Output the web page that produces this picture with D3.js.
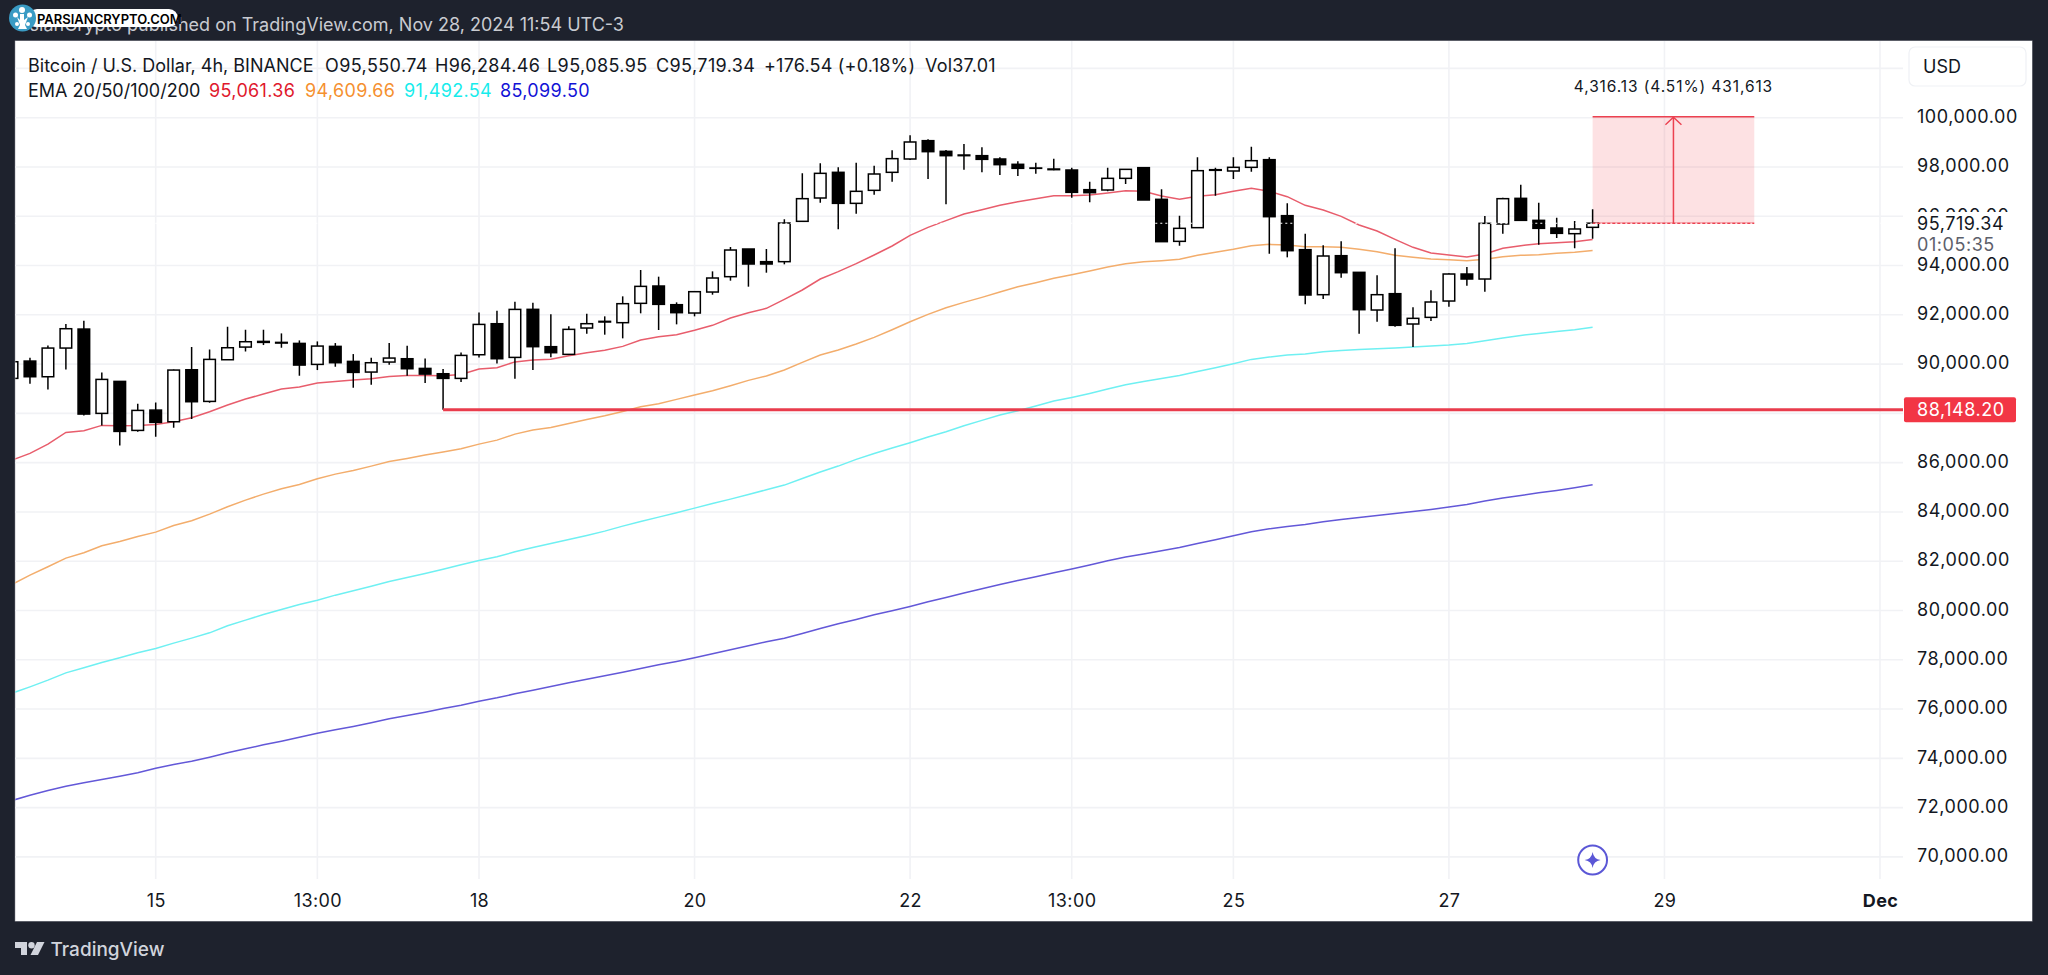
<!DOCTYPE html>
<html><head><meta charset="utf-8">
<script src="https://cdnjs.cloudflare.com/ajax/libs/d3/7.9.0/d3.min.js"></script>
<style>
html,body{margin:0;padding:0;background:#1e222d;overflow:hidden}
svg{display:block}
text{font-family:Inter,"Noto Sans",sans-serif;fill:#131722}
</style></head><body>
<svg id="c" width="2048" height="975"></svg>
<script>
// Index of first candle relative to the "15" tick
const firstIndex = -8;
const opens = [89420,90123,89487,90651,91422,88000,89298,87309,88134,87661,89771,88486,90177,90691,90881,90881,90840,89988,90719,90110,89677,90083,90218,89825,89609,89420,90380,91639,90272,
92222,90707,90395,91464,91708,91681,92466,93169,92411,92073,92925,93548,94671,94157,94157,95794,96741,97783,96524,97052,97783,98324,99068,98635,98459,98459,98324,98108,97959,97891,
97877,97079,97066,97539,97972,96687,94982,95537,97891,97837,97986,98297,96024,94644,92817,94400,93724,92195,92858,91627,91897,92560,93656,93453,95686,96727,95834,95523,95293,95550.74];
const highs = [90096,90259,90759,91625,91760,89663,89298,88391,88446,89785,90691,90597,91517,91395,91395,91246,90962,90921,90854,90407,90259,90854,90746,90231,89798,90475,92099,92166,92532,
92493,92019,91532,92046,91938,92750,93818,93548,92506,92939,93764,94752,94671,94671,95875,97742,98148,97986,98175,98053,98676,99285,99122,98689,98933,98798,98392,98229,98175,98338,
97972,97404,97972,97904,97972,97093,96024,98392,97972,98392,98825,98392,96524,95293,94820,94982,93724,93602,94698,92303,92993,93683,93940,96010,96755,97282,96552,95943,95807,96284.46];
const lows = [89420,89203,88973,89785,87918,87512,86700,87255,87052,87417,87769,88432,90177,90516,90773,90664,89528,89758,89893,89041,89163,89974,89528,89230,88148.2,89271,90272,90028,89406,
89760,90274,90368,91234,91194,91045,92060,91383,91613,91938,92817,93386,93142,93710,94049,95794,96552,95469,96105,96876,97404,98283,97512,96484,97891,97783,97675,97634,97729,97864,
96755,96565,97012,97309,96660,94969,94806,95537,96836,97512,97810,94481,94333,92425,92641,93507,91234,91721,91518,90693,91748,92330,93183,92939,95293,95834,94847,95117,94698,95085.95];
const closes = [90096,89487,90651,91436,87972,89379,87268,88121,87634,89758,88473,90191,90664,90908,90921,90854,89961,90732,90056,89663,90056,90245,89812,89595,89420,90353,91611,90218,92220,
90707,90463,91410,91640,91735,92452,93155,92425,92087,92939,93494,94630,94062,94062,95726,96714,97742,96524,97012,97715,98338,99014,98622,98459,98486,98310,98094,97945,97945,97918,
96971,96957,97539,97904,96660,94969,95510,97850,97864,97986,98256,95983,94603,92804,94387,93710,92208,92817,91573,91857,92520,93656,93453,95713,96714,95834,95510,95307,95483,95719.34];
const ema20 = [86105,86375,86754,87228,87295,87512,87498,87512,87552,87661,87823,88067,88337,88581,88784,88987,89068,89230,89298,89352,89406,89501,89541,89541,89528,89582,89798,89853,90090,
90165,90193,90341,90463,90558,90720,90977,91113,91194,91370,91573,91870,92087,92263,92628,93007,93453,93751,94075,94427,94793,95226,95550,95821,96092,96267,96443,96592,96714,96836,
96836,96863,96944,97039,97012,96822,96687,96809,96876,97012,97133,97012,96795,96443,96254,95997,95645,95401,95063,94739,94509,94427,94346,94468,94698,94806,94887,94928,94969,95061.36];
const ema50 = [81057,81436,81774,82126,82342,82626,82802,83005,83181,83452,83641,83912,84209,84480,84724,84940,85116,85346,85535,85684,85860,86049,86171,86307,86428,86563,86753,86915,87159,
87321,87430,87592,87754,87903,88079,88268,88393,88569,88745,88921,89124,89340,89516,89760,90071,90368,90571,90815,91085,91396,91721,92019,92290,92506,92709,92925,93142,93304,93480,
93629,93778,93940,94075,94157,94197,94251,94414,94536,94657,94806,94860,94833,94766,94766,94739,94657,94563,94414,94333,94265,94238,94197,94251,94360,94414,94441,94495,94536,94609.66];
const ema100 = [76645,76902,77173,77470,77673,77890,78079,78282,78458,78675,78878,79094,79378,79608,79838,80041,80244,80420,80623,80799,80988,81178,81340,81502,81678,81854,82030,82179,82382,
82558,82720,82882,83045,83221,83424,83613,83789,83965,84154,84344,84520,84710,84900,85090,85360,85618,85861,86132,86375,86592,86808,87038,87255,87498,87715,87931,88107,88296,88499,
88648,88810,88986,89162,89298,89419,89541,89703,89852,90015,90191,90285,90366,90407,90502,90556,90596,90623,90651,90691,90732,90772,90840,90948,91056,91165,91246,91327,91395,91492.54];
const ema200 = [72288,72505,72695,72870,73006,73141,73276,73412,73601,73750,73885,74047,74223,74386,74548,74697,74859,75022,75157,75292,75441,75603,75739,75874,76023,76158,76320,76456,76618,
76767,76916,77065,77213,77349,77498,77646,77795,77931,78079,78242,78404,78566,78729,78878,79069,79272,79461,79637,79827,79989,80165,80354,80530,80706,80882,81058,81220,81369,81532,
81680,81843,82019,82167,82289,82424,82560,82722,82871,83033,83195,83317,83412,83493,83602,83696,83777,83859,83940,84021,84102,84197,84305,84440,84562,84670,84779,84874,84982,85099.5];

const priceTicks = [100000,98000,96000,94000,92000,90000,86000,84000,82000,80000,78000,76000,74000,72000,70000];
const gridPrices = [102000,100000,98000,96000,94000,92000,90000,88000,86000,84000,82000,80000,78000,76000,74000,72000,70000];
const timeTicks = [0,9,18,30,42,51,60,72,84,96];
const timeLabels = ["15","13:00","18","20","22","13:00","25","27","29","Dec"];
const lastPrice = 95719.34, lastPriceText = "95,719.34", countdown = "01:05:35";
const alertPrice = 88148.20, alertStart = 16, alertText = "88,148.20";
const toolStart = 80, toolEnd = 89, toolTop = 100035.47, toolBottom = 95719.34;
const toolText = "4,316.13 (4.51%) 431,613";
const legendRow1 = [["Bitcoin / U.S. Dollar, 4h, BINANCE",28,0],["O95,550.74",325,.4],["H96,284.46",435,.4],["L95,085.95",547,.4],["C95,719.34",656,.4],["+176.54 (+0.18%)",764,.2],["Vol37.01",925,.2]];
const legendRow2 = [["EMA 20/50/100/200",28,"#131722",0],["95,061.36",209,"#e0182d",.35],["94,609.66",305,"#f5902f",.35],["91,492.54",404,"#17ecec",.35],["85,099.50",500,"#1212d6",.35]];

const W = 2048, H = 975;
const panel = {l:15.3, t:41, r:2032, b:921};
const plotR = 1903, gridB = 879;
const axisFont = 18, axisSpacing = .55;
const x = d3.scaleLinear().domain([0,96]).range([155.7,1880]);
const y = d3.scaleLinear().domain([70000,100000]).range([856.9,117.7]);

const svg = d3.select("#c");
svg.append("rect").attr("width",W).attr("height",H).attr("fill","#1e222d");
svg.append("rect").attr("x",panel.l-.5).attr("y",panel.t-.5).attr("width",panel.r-panel.l+1).attr("height",panel.b-panel.t+1).attr("fill","#9a9ca3");
svg.append("rect").attr("x",panel.l).attr("y",panel.t).attr("width",panel.r-panel.l).attr("height",panel.b-panel.t).attr("fill","#fff");
svg.append("clipPath").attr("id","plot").append("rect").attr("x",panel.l).attr("y",panel.t).attr("width",plotR-panel.l).attr("height",gridB-panel.t+10);
svg.append("clipPath").attr("id","head").append("rect").attr("x",24).attr("y",0).attr("width",700).attr("height",40);

// grid
const gridG = svg.append("g").attr("stroke","#f1f2f5").attr("stroke-width",1.6);
gridG.selectAll("line.h").data(gridPrices).join("line").attr("class","h")
  .attr("x1",panel.l).attr("x2",plotR).attr("y1",d=>y(d)).attr("y2",d=>y(d));
gridG.selectAll("line.v").data(timeTicks).join("line").attr("class","v")
  .attr("x1",d=>x(d)).attr("x2",d=>x(d)).attr("y1",panel.t).attr("y2",gridB);

const plot = svg.append("g").attr("clip-path","url(#plot)");

// position tool fill
plot.append("rect").attr("x",x(toolStart)).attr("width",x(toolEnd)-x(toolStart))
  .attr("y",y(toolTop)).attr("height",y(toolBottom)-y(toolTop)).attr("fill","#f23645").attr("fill-opacity",.15);

// EMA lines
const series = [[ema200,"#6358d8"],[ema100,"#6ff0f2"],[ema50,"#f3ad6c"],[ema20,"#e85d6c"]];
const line = d3.line().x((d,i)=>x(i+firstIndex)).y(d=>y(d));
plot.selectAll("path.ema").data(series).join("path").attr("class","ema")
  .attr("d",d=>line(d[0])).attr("fill","none").attr("stroke",d=>d[1]).attr("stroke-width",1.5);

// candles
const bars = opens.map((o,i)=>({i:i+firstIndex,o,h:highs[i],l:lows[i],c:closes[i]}));
const bw = 11.6;
const cg = plot.selectAll("g.k").data(bars).join("g").attr("class","k");
cg.append("line").attr("x1",d=>x(d.i)).attr("x2",d=>x(d.i)).attr("y1",d=>y(d.h)).attr("y2",d=>y(d.l))
  .attr("stroke","#000").attr("stroke-width",1.5);
cg.append("rect").attr("x",d=>x(d.i)-bw/2).attr("width",bw)
  .attr("y",d=>y(Math.max(d.o,d.c))).attr("height",d=>Math.abs(y(d.o)-y(d.c)))
  .attr("fill",d=>d.c>=d.o?"#fff":"#000").attr("stroke","#000").attr("stroke-width",1.5);

// alert line
plot.append("line").attr("x1",x(alertStart)).attr("x2",plotR).attr("y1",y(alertPrice)).attr("y2",y(alertPrice))
  .attr("stroke","#e93c4c").attr("stroke-width",3);

// position tool lines
const red = "#ec4150";
plot.append("line").attr("x1",x(toolStart)).attr("x2",x(toolEnd)).attr("y1",y(toolTop)).attr("y2",y(toolTop)).attr("stroke",red).attr("stroke-width",1.5);
plot.append("line").attr("x1",x(toolStart)).attr("x2",x(toolEnd)).attr("y1",y(toolBottom)).attr("y2",y(toolBottom)).attr("stroke",red).attr("stroke-width",1.5);
const midX = x((toolStart+toolEnd)/2);
plot.append("line").attr("x1",midX).attr("x2",midX).attr("y1",y(toolBottom)).attr("y2",y(toolTop)).attr("stroke",red).attr("stroke-width",1.5);
plot.append("path").attr("d",`M${midX-8},${y(toolTop)+8}L${midX},${y(toolTop)+.5}L${midX+8},${y(toolTop)+8}`).attr("fill","none").attr("stroke",red).attr("stroke-width",1.4);

// last price dotted line
plot.append("line").attr("x1",panel.l).attr("x2",plotR).attr("y1",y(lastPrice)).attr("y2",y(lastPrice))
  .attr("stroke","#fff").attr("stroke-width",1.1).attr("stroke-dasharray","2 3");

svg.append("text").attr("x",midX).attr("y",86).attr("text-anchor","middle").attr("dominant-baseline","central")
  .attr("font-size",15.5).attr("letter-spacing",.9).text(toolText);

// price axis
const fmt = d3.format(",.2f");
const ay = svg.append("g").attr("transform","translate(1917,-1)")
  .call(d3.axisRight(y).tickValues(priceTicks).tickSize(0).tickPadding(0).tickFormat(fmt));
ay.select(".domain").remove();
ay.selectAll("text").attr("font-family",null).style("font-family","Inter,'Noto Sans',sans-serif").style("font-size",axisFont+"px").style("letter-spacing",axisSpacing+"px").style("fill","#131722");

// last price cover + labels
svg.append("rect").attr("x",1905).attr("y",212).attr("width",124).attr("height",42).attr("fill","#fff");
svg.append("text").attr("x",1917).attr("y",y(lastPrice)).attr("dominant-baseline","central").attr("font-size",axisFont).attr("letter-spacing",axisSpacing).text(lastPriceText);
svg.append("text").attr("x",1917).attr("y",y(lastPrice)+21).attr("dominant-baseline","central").attr("font-size",axisFont).attr("letter-spacing",axisSpacing).style("fill","#5d606b").text(countdown);

// alert label
svg.append("rect").attr("x",1904).attr("y",y(alertPrice)-12.5).attr("width",112).attr("height",25).attr("rx",2).attr("fill","#f23645");
svg.append("text").attr("x",1917).attr("y",y(alertPrice)-.5).attr("dominant-baseline","central").attr("font-size",axisFont).attr("letter-spacing",axisSpacing).style("fill","#fff").text(alertText);

// USD button
svg.append("rect").attr("x",1909).attr("y",47).attr("width",117).attr("height",39).attr("rx",6).attr("fill","#fff").attr("stroke","#eff1f5").attr("stroke-width",1.2);
svg.append("text").attr("x",1923).attr("y",66.5).attr("dominant-baseline","central").attr("font-size",18).text("USD");

// time axis
const ax = svg.append("g").attr("transform",`translate(0,894)`)
  .call(d3.axisBottom(x).tickValues(timeTicks).tickSize(0).tickPadding(0).tickFormat((d,i)=>timeLabels[i]));
ax.select(".domain").remove();
ax.selectAll("text").attr("font-family",null).style("font-family","Inter,'Noto Sans',sans-serif").style("font-size",axisFont+"px").style("letter-spacing",".4px").style("fill","#131722")
  .style("font-weight",(d,i)=>timeLabels[i]==="Dec"?"700":"400");

// legend
svg.selectAll("text.l1").data(legendRow1).join("text").attr("class","l1").attr("x",d=>d[1]).attr("y",65).attr("dominant-baseline","central").attr("font-size",18).attr("letter-spacing",d=>d[2]).text(d=>d[0]);
svg.selectAll("text.l2").data(legendRow2).join("text").attr("class","l2").attr("x",d=>d[1]).attr("y",90.5).attr("dominant-baseline","central").attr("font-size",18).attr("letter-spacing",d=>d[3]).style("fill",d=>d[2]).text(d=>d[0]);

// spark marker
const sx = x(80), sy = 860;
svg.append("circle").attr("cx",sx).attr("cy",sy).attr("r",14.4).attr("fill","#fff").attr("stroke","#5b57d6").attr("stroke-width",2);
svg.append("path").attr("d",`M${sx},${sy-8}Q${sx+1},${sy-1} ${sx+8},${sy}Q${sx+1},${sy+1} ${sx},${sy+8}Q${sx-1},${sy+1} ${sx-8},${sy}Q${sx-1},${sy-1} ${sx},${sy-8}Z`).attr("fill","#5b57d6");

// header
svg.append("g").attr("clip-path","url(#head)").append("text").attr("x",624).attr("y",24).attr("text-anchor","end").attr("dominant-baseline","central").attr("font-size",18).style("fill","#c9cbd1")
  .text("ParsianCrypto published on TradingView.com, Nov 28, 2024 11:54 UTC-3");
svg.append("rect").attr("x",28).attr("y",9).attr("width",150).attr("height",18).attr("rx",9).attr("fill","#fff");
svg.append("text").attr("x",37).attr("y",18.5).attr("dominant-baseline","central").attr("font-size",13).attr("font-weight",600).style("fill","#000").text("PARSIANCRYPTO.COM");
svg.append("circle").attr("cx",22.5).attr("cy",18).attr("r",13.5).attr("fill","#3a9bc4");
const lg = svg.append("g").attr("fill","#fff");
[[22,10,3],[15.5,15,2.5],[29.5,15,2.5],[17,24,2],[28,24,2]].forEach(c=>lg.append("circle").attr("cx",c[0]).attr("cy",c[1]).attr("r",c[2]));
lg.append("path").attr("d","M20,14L24,14L24,20L28,17L25,25L27,29L18,29L20,25L17,17L20,20Z");

// footer logo
svg.append("path").attr("fill","#d1d4dc").attr("d","M15,942H27V955H21V948H15Z");
svg.append("circle").attr("cx",31.5).attr("cy",945.2).attr("r",3.2).attr("fill","#d1d4dc");
svg.append("path").attr("fill","#d1d4dc").attr("d","M37,942H44.5L38,955H30.5Z");
svg.append("text").attr("x",50.5).attr("y",949).attr("dominant-baseline","central").attr("font-size",19).attr("font-weight",500).style("fill","#d1d4dc").text("TradingView");
</script>
</body></html>
